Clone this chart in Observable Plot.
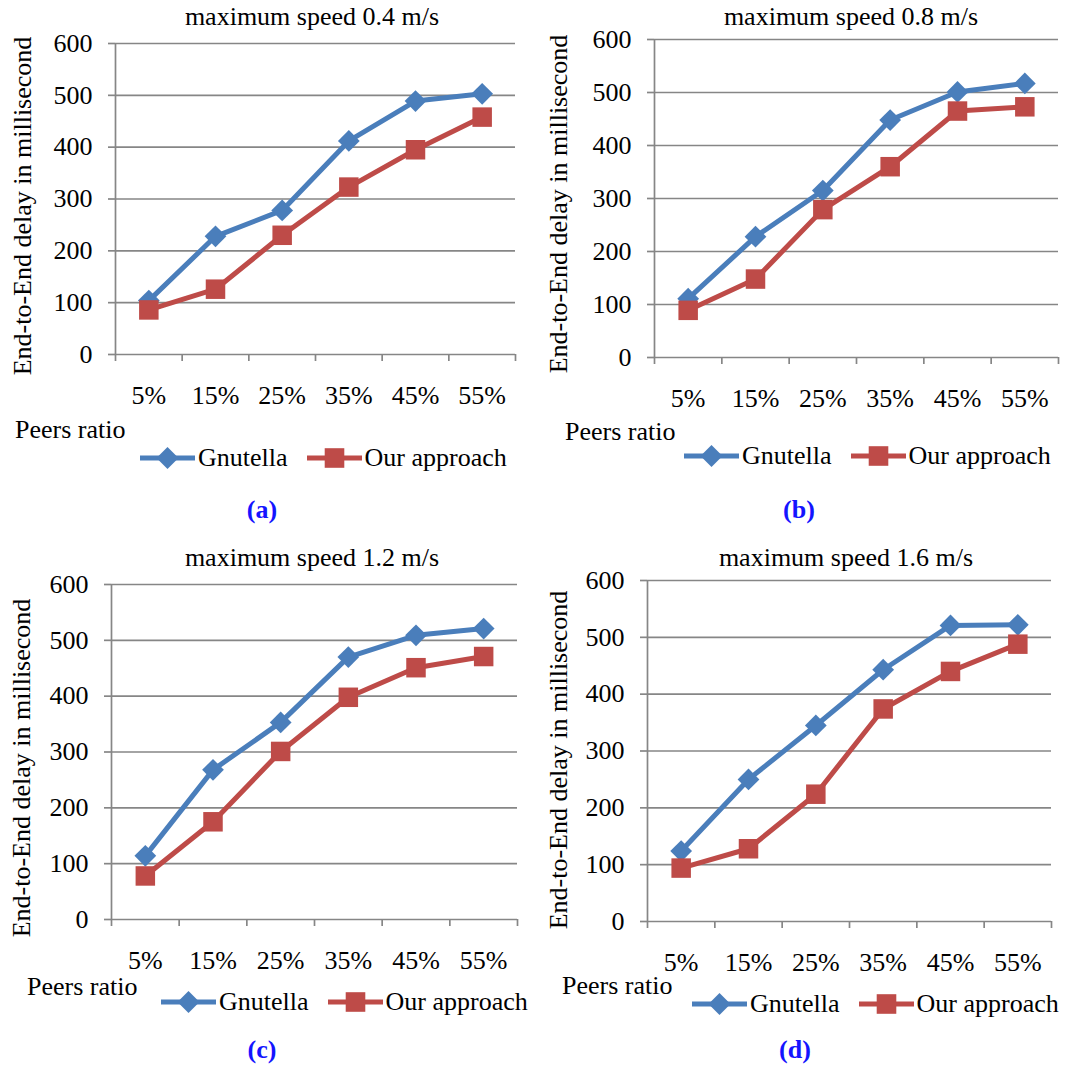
<!DOCTYPE html>
<html><head><meta charset="utf-8">
<script src="https://cdn.jsdelivr.net/npm/d3@7"></script>
<script src="https://cdn.jsdelivr.net/npm/@observablehq/plot@0.6"></script>
<style>
body{margin:0;background:#fff;}
#root{position:relative;width:1069px;height:1067px;overflow:hidden;background:#fff;font-family:'Liberation Serif','Times New Roman',serif;color:#000;}
.plot{position:absolute;}
.plot text{font-family:'Liberation Serif','Times New Roman',serif;}
.legend{position:absolute;display:flex;align-items:center;white-space:nowrap;font-size:26px;line-height:1;transform:translateY(-50%);}
.tag{position:absolute;font-weight:bold;color:#1414ff;font-size:26px;line-height:1;transform:translate(-50%,-50%);}
.ylab{position:absolute;font-size:26px;line-height:1;white-space:nowrap;transform:translate(-50%,-50%) rotate(-90deg);}
.title{position:absolute;font-size:26px;line-height:1;white-space:nowrap;transform:translate(-50%,-50%);}
.xlab{position:absolute;font-size:26px;line-height:1;white-space:nowrap;transform:translateY(-50%);}
</style></head>
<body><div id="root"></div>
<script>
// ---- data ----
const categories = ["5%", "15%", "25%", "35%", "45%", "55%"];
const seriesNames = ["Gnutella", "Our approach"];
const panelTitles = ["maximum speed 0.4 m/s", "maximum speed 0.8 m/s", "maximum speed 1.2 m/s", "maximum speed 1.6 m/s"];
const panelTags = ["(a)", "(b)", "(c)", "(d)"];
const yTicks = [0, 100, 200, 300, 400, 500, 600];
const yLabel = "End-to-End delay in millisecond";
const xLabel = "Peers ratio";

const gnutellaA = [104, 228, 278, 412, 489, 503];
const oursA     = [86, 126, 230, 323, 395, 458];
const gnutellaB = [111, 228, 315, 448, 501, 517];
const oursB     = [89, 148, 279, 360, 465, 473];
const gnutellaC = [114, 268, 353, 470, 509, 521];
const oursC     = [78, 175, 301, 398, 451, 471];
const gnutellaD = [124, 250, 345, 443, 521, 522];
const oursD     = [94, 128, 224, 374, 440, 488];

const panelSeries = [[gnutellaA, oursA], [gnutellaB, oursB], [gnutellaC, oursC], [gnutellaD, oursD]];

// ---- layout / style ----
const BLUE = "#4a7ebb", RED = "#be4b48", GRID = "#868686";
const FONT = "'Liberation Serif','Times New Roman',serif";
const layout = [
  {left: 0,   top: 0,   w: 535, h: 420, ml: 115, mr: 20, mt: 43, mb: 66,
   title: [312, 17], ylab: [23, 206], xlab: [15, 430], legend: [140, 458], tag: [262, 510]},
  {left: 535, top: 0,   w: 534, h: 420, ml: 119, mr: 11, mt: 39, mb: 63,
   title: [851, 17], ylab: [559, 204], xlab: [565, 432], legend: [684, 456], tag: [799, 510]},
  {left: 0,   top: 540, w: 535, h: 460, ml: 111, mr: 18, mt: 44, mb: 81,
   title: [312, 558], ylab: [22, 768], xlab: [27, 987], legend: [161, 1002], tag: [262, 1050]},
  {left: 535, top: 540, w: 534, h: 460, ml: 112, mr: 18, mt: 40, mb: 79,
   title: [846, 558], ylab: [559, 760], xlab: [562, 986], legend: [692, 1004], tag: [795, 1050]}
];

const root = document.getElementById("root");

function el(cls, text, x, y) {
  const d = document.createElement("div");
  d.className = cls;
  d.textContent = text;
  d.style.left = x + "px";
  d.style.top = y + "px";
  root.appendChild(d);
  return d;
}

function swatch(color, shape) {
  const ns = "http://www.w3.org/2000/svg";
  const s = document.createElementNS(ns, "svg");
  s.setAttribute("width", 55); s.setAttribute("height", 24);
  const l = document.createElementNS(ns, "line");
  l.setAttribute("x1", 0); l.setAttribute("x2", 55); l.setAttribute("y1", 12); l.setAttribute("y2", 12);
  l.setAttribute("stroke", color); l.setAttribute("stroke-width", 5);
  s.appendChild(l);
  const p = document.createElementNS(ns, "path");
  p.setAttribute("transform", "translate(27.5,12)");
  p.setAttribute("d", shape === "diamond" ? "M0,-11L11,0L0,11L-11,0Z" : "M-9.8,-9.8H9.8V9.8H-9.8Z");
  p.setAttribute("fill", color);
  s.appendChild(p);
  return s;
}

panelSeries.forEach((series, k) => {
  const L = layout[k];
  const rows = [];
  series.forEach((vals, s) => vals.forEach((v, i) => rows.push({series: seriesNames[s], pos: i + 0.5, value: v})));
  const g = rows.filter(r => r.series === seriesNames[0]);
  const o = rows.filter(r => r.series === seriesNames[1]);
  const chart = Plot.plot({
    width: L.w, height: L.h,
    marginLeft: L.ml, marginRight: L.mr, marginTop: L.mt, marginBottom: L.mb,
    style: {fontFamily: FONT, fontSize: "26px", color: "#000", background: "transparent", overflow: "visible"},
    x: {domain: [0, categories.length], axis: null},
    y: {domain: [0, 600], axis: null},
    marks: [
      Plot.ruleY(yTicks, {stroke: GRID, strokeWidth: 1.7}),
      Plot.ruleX([0], {stroke: GRID, strokeWidth: 1.7}),
      Plot.axisY({ticks: yTicks, tickSize: 7, tickPadding: 16, stroke: GRID, strokeWidth: 1.7, fill: "#000", fontSize: 26, fontFamily: FONT, label: null, tickFormat: d => String(d)}),
      Plot.axisX({ticks: d3.range(categories.length + 1), tickSize: 7, stroke: GRID, strokeWidth: 1.7, tickFormat: () => "", label: null}),
      Plot.axisX({ticks: categories.map((c, i) => i + 0.5), tickSize: 0, tickPadding: 31, fill: "#000", fontSize: 26, fontFamily: FONT, label: null, tickFormat: v => categories[Math.floor(v)]}),
      Plot.line(g, {x: "pos", y: "value", stroke: BLUE, strokeWidth: 5, strokeLinejoin: "round"}),
      Plot.dot(g, {x: "pos", y: "value", symbol: "diamond2", r: 9.8, fill: BLUE, stroke: "none"}),
      Plot.line(o, {x: "pos", y: "value", stroke: RED, strokeWidth: 5, strokeLinejoin: "round"}),
      Plot.dot(o, {x: "pos", y: "value", symbol: "square", r: 11, fill: RED, stroke: "none"})
    ]
  });
  chart.classList.add("plot");
  chart.style.left = L.left + "px";
  chart.style.top = L.top + "px";
  chart.style.position = "absolute";
  root.appendChild(chart);

  el("title", panelTitles[k], L.title[0], L.title[1]);
  el("ylab", yLabel, L.ylab[0], L.ylab[1]);
  el("xlab", xLabel, L.xlab[0], L.xlab[1]);
  el("tag", panelTags[k], L.tag[0], L.tag[1]);

  const lg = document.createElement("div");
  lg.className = "legend";
  lg.style.left = L.legend[0] + "px";
  lg.style.top = L.legend[1] + "px";
  const t1 = document.createElement("span"); t1.textContent = seriesNames[0]; t1.style.margin = "0 19px 0 3px";
  const t2 = document.createElement("span"); t2.textContent = seriesNames[1]; t2.style.marginLeft = "3px";
  lg.appendChild(swatch(BLUE, "diamond")); lg.appendChild(t1);
  lg.appendChild(swatch(RED, "square")); lg.appendChild(t2);
  root.appendChild(lg);
});
</script>
</body></html>
